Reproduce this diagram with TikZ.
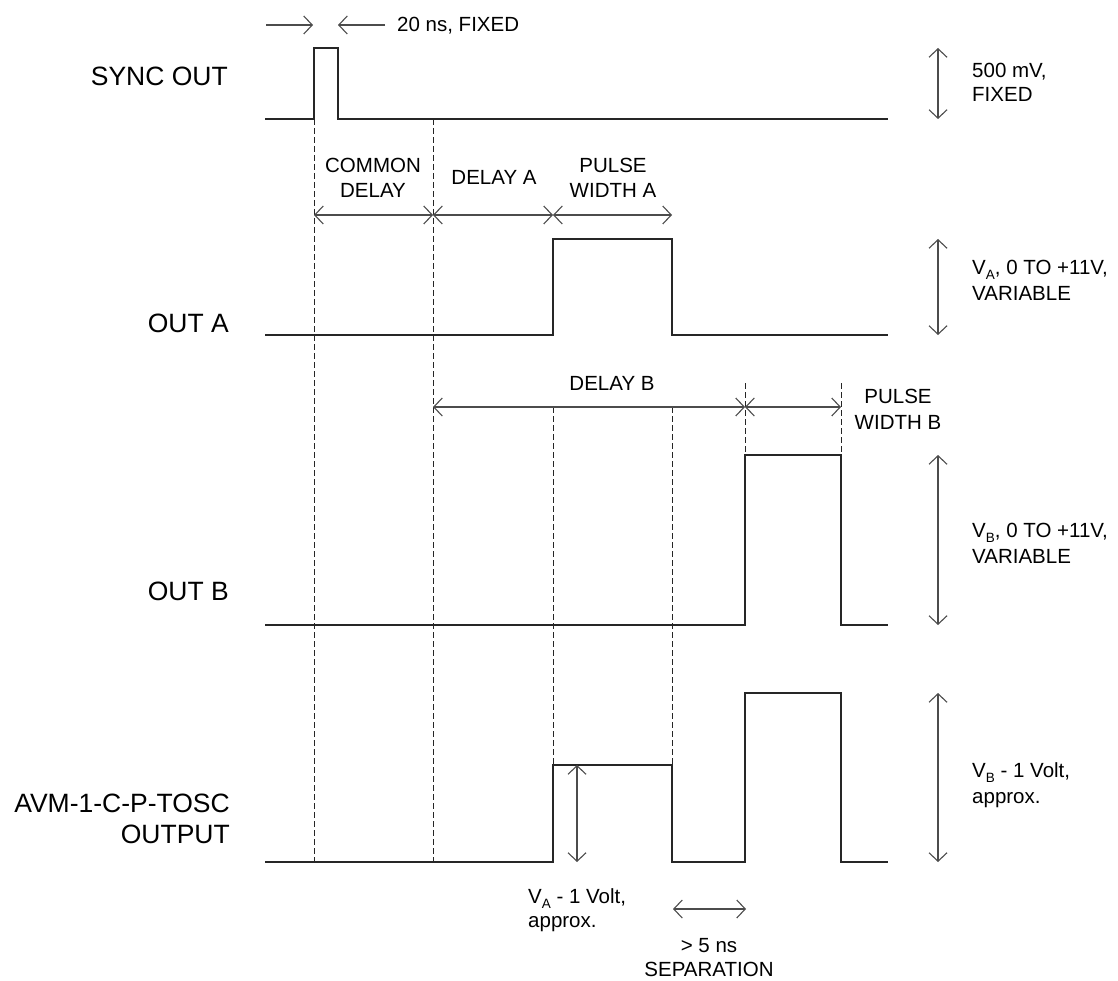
\documentclass[tikz,border=0pt]{standalone}
\usepackage{fontspec}
\setmainfont{Liberation Sans}
\usetikzlibrary{arrows.meta}
\newcommand{\lowsub}[1]{\raisebox{-5pt}{\fontsize{13.5}{14}\selectfont #1}}
\begin{document}
\begin{tikzpicture}[x=1pt,y=-1pt,
 sig/.style={line width=1.1pt, black!85},
 guide/.style={line width=0.9pt, dash pattern=on 6pt off 3pt, black!85},
 dim/.style={line width=1.1pt, black!70, {Straight Barb[length=8.5pt,width=18pt]}-{Straight Barb[length=8.5pt,width=18pt]}},
 rdim/.style={line width=1.1pt, black!70, -{Straight Barb[length=8.5pt,width=18pt]}},
 big/.style={font=\fontsize{26.5}{31}\selectfont, inner sep=0pt, anchor=base east},
 lab/.style={font=\fontsize{20.5}{25}\selectfont, inner sep=0pt, anchor=base},
 labw/.style={lab, anchor=base west},
]
\useasboundingbox (0,0) rectangle (1118,981);

% guides
\draw[guide] (314,119) -- (314,862);
\draw[guide] (433,119) -- (433,862);
\draw[guide] (553,407) -- (553,765);
\draw[guide] (672,407) -- (672,765);
\draw[guide] (745,383) -- (745,455);
\draw[guide] (841,383) -- (841,455);

% signals
\draw[sig] (265,119) -- (314,119) -- (314,48) -- (338,48) -- (338,119) -- (888,119);
\draw[sig] (265,335) -- (553,335) -- (553,239) -- (672,239) -- (672,335) -- (888,335);
\draw[sig] (265,625) -- (745,625) -- (745,455) -- (841,455) -- (841,625) -- (888,625);
\draw[sig] (265,862) -- (553,862) -- (553,765) -- (672,765) -- (672,862) -- (745,862) -- (745,693) -- (841,693) -- (841,862) -- (888,862);

% left labels
\node[big] (lsync) at (228,86) {SYNC OUT};
\node[big] (louta) at (229,332) {OUT A};
\node[big] (loutb) at (229,600) {OUT B};
\node[big] (lavm) at (230,812) {AVM-1-C-P-TOSC};
\node[big] (lavm2) at (230,843) {OUTPUT};

% 20 ns
\coordinate (t1) at (266,25); \coordinate (t2) at (313,25);
\coordinate (t3) at (385,25); \coordinate (t4) at (338,25);
\draw[rdim] (t1) -- (t2);
\draw[rdim] (t3) -- (t4);
\node[labw] (t20) at (397,32) {20 ns, FIXED};

% timing row A
\coordinate (a0) at (314,215); \coordinate (a1) at (433,215);
\coordinate (a2) at (553,215); \coordinate (a3) at (672,215);
\draw[dim] (a0) -- (a1);
\draw[dim] (a1) -- (a2);
\draw[dim] (a2) -- (a3);
\node[lab] (cd1) at (373,173) {COMMON};
\node[lab] (cd2) at (373,198) {DELAY};
\node[lab] (da) at (494,185) {DELAY A};
\node[lab] (pa1) at (613,173) {PULSE};
\node[lab] (pa2) at (613,198) {WIDTH A};

% timing row B
\coordinate (b0) at (433,407); \coordinate (b1) at (745,407); \coordinate (b2) at (841,407);
\draw[dim] (b0) -- (b1);
\draw[dim] (b1) -- (b2);
\node[lab] (db) at (612,390) {DELAY B};
\node[lab] (pb1) at (898,403) {PULSE};
\node[lab] (pb2) at (898,429) {WIDTH B};

% right amplitude arrows
\coordinate (r1a) at (938,48);  \coordinate (r1b) at (938,119);
\coordinate (r2a) at (938,239); \coordinate (r2b) at (938,335);
\coordinate (r3a) at (938,455); \coordinate (r3b) at (938,625);
\coordinate (r4a) at (938,693); \coordinate (r4b) at (938,862);
\draw[dim] (r1a) -- (r1b);
\draw[dim] (r2a) -- (r2b);
\draw[dim] (r3a) -- (r3b);
\draw[dim] (r4a) -- (r4b);
\node[labw] (v1a) at (972,78) {500 mV,};
\node[labw] (v1b) at (972,102) {FIXED};
\node[labw] (v2a) at (972,275) {V\lowsub{A}, 0 TO +11V,};
\node[labw] (v2b) at (972,301) {VARIABLE};
\node[labw] (v3a) at (972,537) {V\lowsub{B}, 0 TO +11V,};
\node[labw] (v3b) at (972,563) {VARIABLE};
\node[labw] (v4a) at (972,777) {V\lowsub{B} - 1 Volt,};
\node[labw] (v4b) at (972,803) {approx.};

% bottom annotations
\coordinate (m1) at (577,765); \coordinate (m2) at (577,862);
\draw[dim] (m1) -- (m2);
\node[labw] (va1) at (528,903) {V\lowsub{A} - 1 Volt,};
\node[labw] (va2) at (528,927) {approx.};
\coordinate (s1) at (673,909); \coordinate (s2) at (746,909);
\draw[dim] (s1) -- (s2);
\node[lab] (sp1) at (709,952) {> 5 ns};
\node[lab] (sp2) at (709,976) {SEPARATION};
\end{tikzpicture}
\end{document}
